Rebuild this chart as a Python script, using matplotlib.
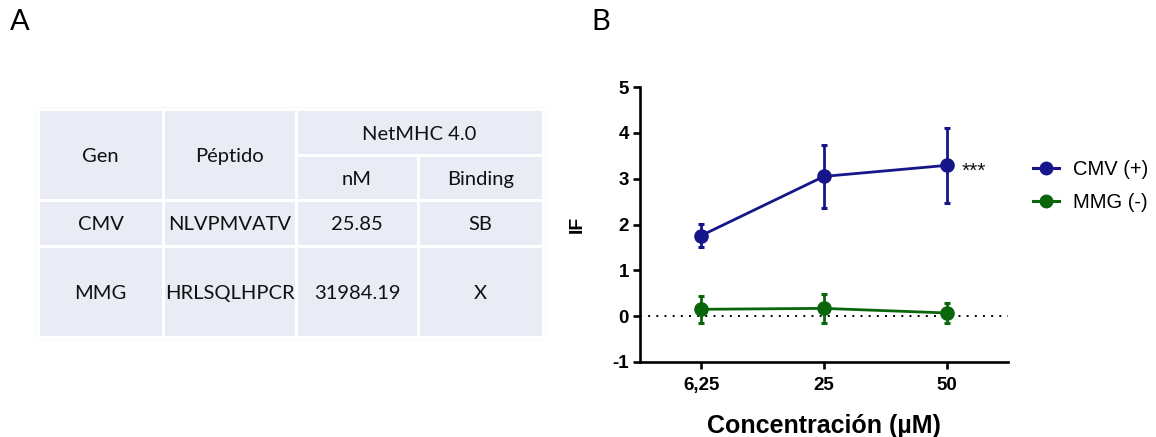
import matplotlib
matplotlib.use("Agg")
import matplotlib.pyplot as plt
from matplotlib.patches import Rectangle
from matplotlib.lines import Line2D

plt.rcParams["axes.unicode_minus"] = False

# ---------------- data ----------------
table_header_top = ["Gen", "Péptido", "NetMHC 4.0"]
table_header_sub = ["nM", "Binding"]
genes = ["CMV", "MMG"]
peptides = ["NLVPMVATV", "HRLSQLHPCR"]
nm_values = ["25.85", "31984.19"]
binding = ["SB", "X"]

concentrations = ["6,25", "25", "50"]
cmv_mean = [1.76, 3.05, 3.29]
cmv_err = [0.26, 0.69, 0.81]
mmg_mean = [0.15, 0.17, 0.07]
mmg_err = [0.30, 0.31, 0.21]
series_labels = ["CMV (+)", "MMG (-)"]
yticks = [-1, 0, 1, 2, 3, 4, 5]

W, H = 1156, 437
fig = plt.figure(figsize=(W / 100, H / 100), dpi=100)

# ---------------- overlay axes in pixel coordinates ----------------
ov = fig.add_axes([0, 0, 1, 1])
ov.set_xlim(0, W)
ov.set_ylim(H, 0)
ov.axis("off")

tfont = dict(family=["Lato", "DejaVu Sans"], fontsize=14.5, color="#111111")
cell_fc = "#e9ebf5"
col_x = [38, 163, 296, 418, 543]
row_y = [109, 155, 200, 246, 337]

def cell(x0, x1, y0, y1, text):
    ov.add_patch(Rectangle((x0, y0), x1 - x0, y1 - y0, facecolor=cell_fc,
                           edgecolor="white", linewidth=2.2, zorder=2))
    ov.text((x0 + x1) / 2, (y0 + y1) / 2 + 2, text, ha="center", va="center",
            zorder=3, **tfont)

# outer faint border
ov.add_patch(Rectangle((col_x[0] - 1, row_y[0] - 1), col_x[-1] - col_x[0] + 2,
                       row_y[-1] - row_y[0] + 2, facecolor="none",
                       edgecolor="#dcdcdc", linewidth=1.0, zorder=1))
# header
cell(col_x[0], col_x[1], row_y[0], row_y[2], table_header_top[0])
cell(col_x[1], col_x[2], row_y[0], row_y[2], table_header_top[1])
cell(col_x[2], col_x[4], row_y[0], row_y[1], table_header_top[2])
cell(col_x[2], col_x[3], row_y[1], row_y[2], table_header_sub[0])
cell(col_x[3], col_x[4], row_y[1], row_y[2], table_header_sub[1])
for i in range(len(genes)):
    y0, y1 = row_y[2 + i], row_y[3 + i]
    for j, txt in enumerate([genes[i], peptides[i], nm_values[i], binding[i]]):
        cell(col_x[j], col_x[j + 1], y0, y1, txt)

# panel letters
pfont = dict(family=["Lato", "DejaVu Sans"], fontsize=21, color="black")
ov.text(10, 22, "A", ha="left", va="center", **pfont)
ov.text(591, 22, "B", ha="left", va="center", **pfont)

# ---------------- chart ----------------
left, right, top, bottom = 640, 1008, 87, 362
ax = fig.add_axes([left / W, (H - bottom) / H, (right - left) / W, (bottom - top) / H])
blue = "#16168a"
green = "#0b650b"
xs = list(range(len(concentrations)))

ax.axhline(0, color="black", linestyle=(0, (1, 3.2)), linewidth=1.4, zorder=1)
ax.errorbar(xs, cmv_mean, yerr=cmv_err, color=blue, marker="o", markersize=9.5,
            linewidth=2.0, elinewidth=2.0, capsize=2.5, capthick=2.2, zorder=3,
            label=series_labels[0])
ax.errorbar(xs, mmg_mean, yerr=mmg_err, color=green, marker="o", markersize=9.5,
            linewidth=2.0, elinewidth=2.0, capsize=2.5, capthick=2.2, zorder=3,
            label=series_labels[1])
ax.text(xs[2] + 0.12, cmv_mean[2] - 0.12, "***", ha="left", va="center",
        fontsize=15, family=["Liberation Sans", "DejaVu Sans"], color="#111111")

ax.set_xlim(-0.5, 2.5)
ax.set_ylim(yticks[0], yticks[-1])
ax.set_xticks(xs)
ax.set_xticklabels(concentrations)
ax.set_yticks(yticks)
for s in ["top", "right"]:
    ax.spines[s].set_visible(False)
for s in ["left", "bottom"]:
    ax.spines[s].set_linewidth(1.9)
ax.tick_params(axis="both", width=1.9, length=5, direction="out",
               labelsize=13.5, pad=3)
for lab in ax.get_xticklabels() + ax.get_yticklabels():
    lab.set_fontweight("bold")
    lab.set_family(["Liberation Sans", "DejaVu Sans"])
ax.tick_params(axis="x", pad=6)
ax.set_xlabel("Concentración (µM)", fontsize=18, fontweight="bold",
              family=["Liberation Sans", "DejaVu Sans"], labelpad=14)
ax.set_ylabel("IF", fontsize=14, fontweight="bold",
              family=["Liberation Sans", "DejaVu Sans"], labelpad=19)
ax.patch.set_alpha(0)

handles = [Line2D([], [], color=blue, marker="o", markersize=9, linewidth=2.2),
           Line2D([], [], color=green, marker="o", markersize=9, linewidth=2.2)]
fig.legend(handles, series_labels, loc="upper left",
           bbox_to_anchor=(1015 / W, 1 - 142 / H), frameon=False,
           prop=dict(family=["Liberation Sans", "DejaVu Sans"], size=14.5),
           handlelength=1.3, handletextpad=0.7, labelspacing=0.7)

fig.savefig("out.png", dpi=100)
